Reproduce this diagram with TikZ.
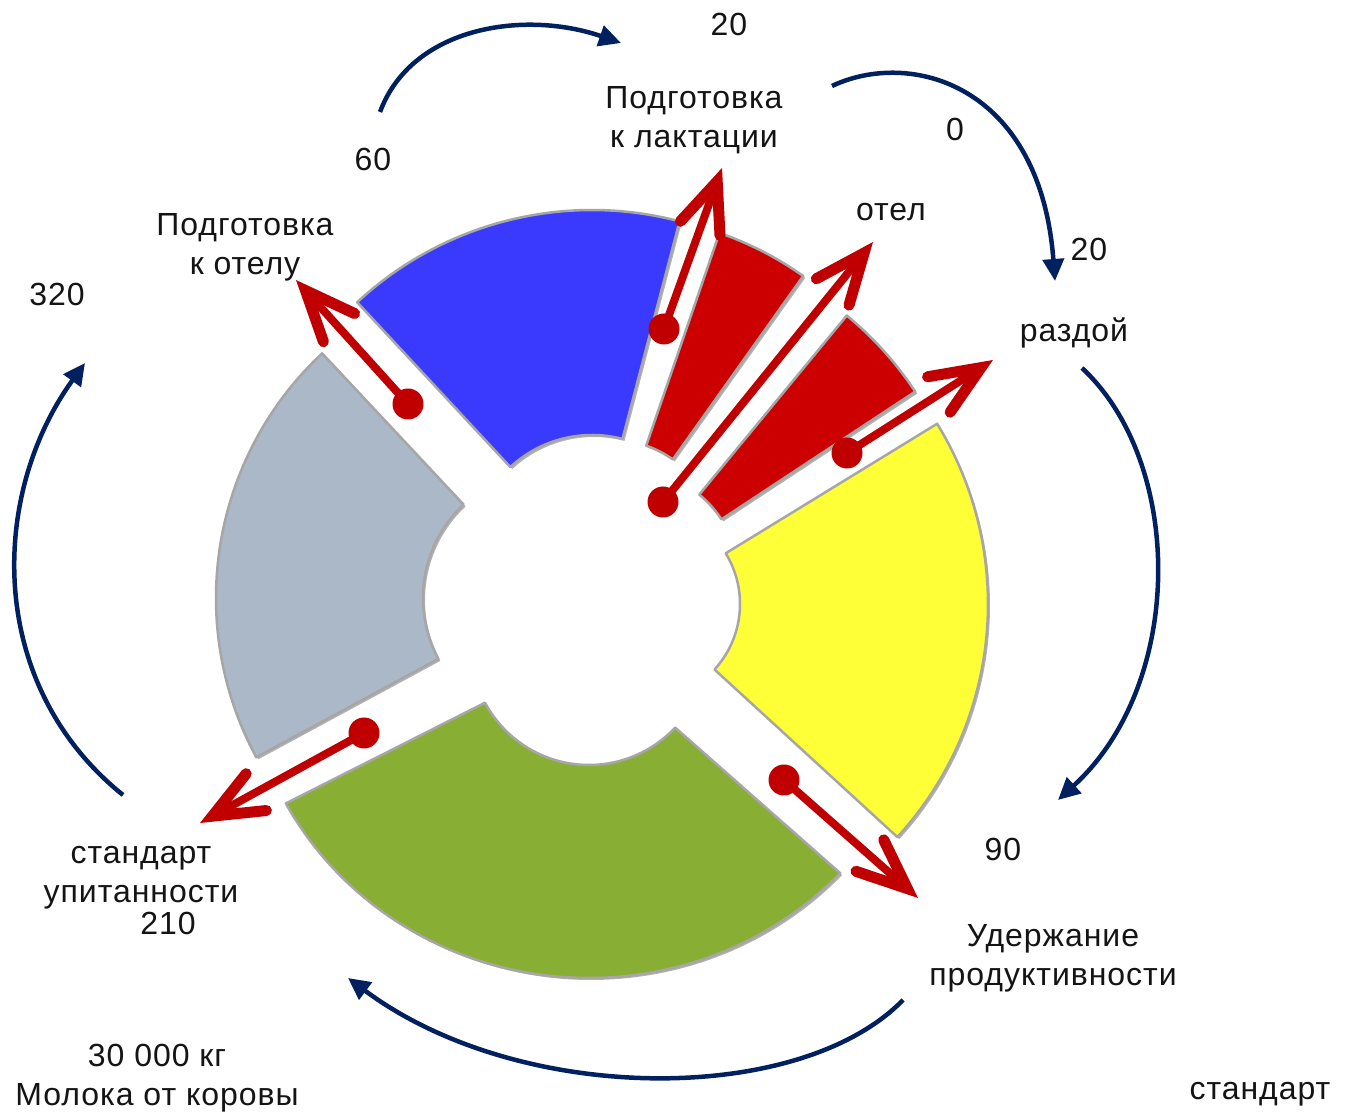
\documentclass[tikz,border=0pt]{standalone}
\usepackage{fontspec}
\setmainfont{Liberation Sans}
\newfontfamily\lblfont[LetterSpace=3]{Liberation Sans}
\usetikzlibrary{arrows.meta,calc,shadows}
\definecolor{redc}{HTML}{C00000}
\definecolor{navy}{HTML}{002060}
\definecolor{segblue}{HTML}{3A3AFF}
\definecolor{segred}{HTML}{CC0000}
\definecolor{segyellow}{HTML}{FFFF38}
\definecolor{seggreen}{HTML}{88AF33}
\definecolor{seggray}{HTML}{ABB8C8}
\definecolor{txtc}{HTML}{141414}
\tikzset{
  segline/.style={draw=black!35, line width=2.5pt, line join=round,
    drop shadow={shadow xshift=2pt,shadow yshift=-2pt,opacity=.3,fill=black}},
  redarrow/.style={draw=redc, line width=8pt,
    -{Straight Barb[length=50pt,width=42pt,line width=11pt,line cap=round]}},
  reddot/.style={circle, fill=redc, inner sep=0pt, minimum size=31pt},
  navyarrow/.style={draw=navy, line width=4.5pt, -{Triangle[length=22pt,width=21pt]}},
  lbl/.style={font=\lblfont\fontsize{32}{39}\selectfont, text=txtc, align=center, inner sep=0pt}
}
% cx cy a1 a2 rin routx routy color
\newcommand\ringseg[8]{%
  \path[segline, fill=#8] ($(#1,#2)+(#3:#5)$) -- ($(#1,#2)+(#3:#6 and #7)$)
    arc[start angle=#3, end angle=#4, x radius=#6, y radius=#7]
    -- ($(#1,#2)+(#4:#5)$) arc[start angle=#4, end angle=#3, radius=#5] -- cycle;}
\begin{document}
\begin{tikzpicture}[x=1pt,y=1pt]
\useasboundingbox[fill=white] (0,0) rectangle (1345,1114);

% ring segments
\ringseg{551}{516}{133.1}{208.4}{128}{335}{335}{seggray}
\ringseg{592}{559}{75.3}{132.9}{120}{345}{345}{segblue}
\ringseg{612}{569}{54.6}{71.0}{105}{330}{330}{segred}
\ringseg{628}{533}{33.4}{50.5}{112}{344}{344}{segred}
\ringseg{643}{510}{-42.5}{31.5}{97}{345}{345}{segyellow}
\ringseg{589}{467}{208.2}{316.9}{118}{344}{331}{seggreen}

% red arrows
\node[reddot] (d1) at (408,710) {};
\node[reddot] (d2) at (664,785) {};
\node[reddot] (d3) at (663,612) {};
\node[reddot] (d4) at (847,661) {};
\node[reddot] (d5) at (784,334) {};
\node[reddot] (d6) at (364,381) {};
\coordinate (t1) at (296,834);
\coordinate (t2) at (722,946);
\coordinate (t3) at (873,872);
\coordinate (t4) at (993,754);
\coordinate (t5) at (918,216);
\coordinate (t6) at (200,291);
\draw[redarrow] (d1.center) -- (t1);
\draw[redarrow] (d2.center) -- (t2);
\draw[redarrow] (d3.center) -- (t3);
\draw[redarrow] (d4.center) -- (t4);
\draw[redarrow] (d5.center) -- (t5);
\draw[redarrow] (d6.center) -- (t6);

% navy cycle arrows
\coordinate (b1s) at (380,1002);
\coordinate (b1e) at (621,1071);
\coordinate (b2s) at (832,1028);
\coordinate (b2e) at (1055,833);
\coordinate (b3s) at (1082,746);
\coordinate (b3e) at (1058,314);
\coordinate (b4s) at (903,114);
\coordinate (b4e) at (348,136);
\coordinate (b5s) at (123,319);
\coordinate (b5e) at (85,751);
\draw[navyarrow] (b1s) .. controls (412,1088) and (525,1104) .. (b1e);
\draw[navyarrow] (b2s) .. controls (910,1065) and (1040,1030) .. (b2e);
\draw[navyarrow] (b3s) .. controls (1185,650) and (1185,430) .. (b3e);
\draw[navyarrow] (b4s) .. controls (800,8) and (520,8) .. (b4e);
\draw[navyarrow] (b5s) .. controls (-15,430) and (-10,620) .. (b5e);

% labels
\node[lbl] (n20a) at (729,1090) {20};
\node[lbl] (lact) at (694,994) {Подготовка\\к лактации};
\node[lbl] (n60) at (373,955) {60};
\node[lbl] (n0) at (955,985) {0};
\node[lbl] (otel) at (891,902) {отел};
\node[lbl] (n20b) at (1089,865) {20};
\node[lbl] (razd) at (1074,781) {раздой};
\node[lbl] (potel) at (245,867) {Подготовка\\к отелу};
\node[lbl] (n320) at (57,820) {320};
\node[lbl] (n90) at (1003,265) {90};
\node[lbl] (uder) at (1053,156) {Удержание\\продуктивности};
\node[lbl] (stup) at (141,236) {стандарт\\упитанности};
\node[lbl] (n210) at (168,191) {210};
\node[lbl] (milk) at (157,36) {30 000 кг\\Молока от коровы};
\node[lbl] (stand) at (1260,20) {стандарт};
\end{tikzpicture}
\end{document}
